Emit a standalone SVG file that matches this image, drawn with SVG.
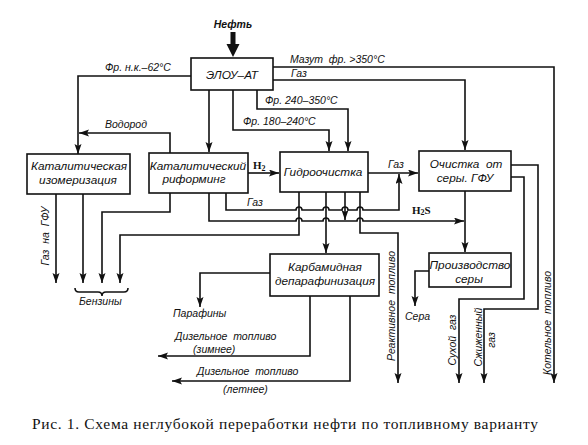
<svg xmlns="http://www.w3.org/2000/svg" width="588" height="445" viewBox="0 0 588 445">
<defs>
<marker id="ah" markerUnits="userSpaceOnUse" markerWidth="11" markerHeight="8" refX="10" refY="3.5" orient="auto">
<path d="M0,0 L10,3.5 L0,7 L2,3.5 z" fill="#111"/>
</marker>
<style>
.ln{fill:none;stroke:#111;stroke-width:1.6}
.bx{fill:#fff;stroke:#111;stroke-width:1.6}
.t{font-family:"Liberation Sans",Arial,sans-serif;font-style:italic;font-size:10.5px;fill:#111}
.bt{font-family:"Liberation Sans",Arial,sans-serif;font-style:italic;font-size:11.8px;fill:#111;text-anchor:middle}
.h{font-family:"Liberation Serif","Times New Roman",serif;font-weight:bold;font-size:11px;fill:#111}
.cap{font-family:"Liberation Serif","Times New Roman",serif;font-size:15.5px;fill:#111}
</style>
</defs>
<rect width="588" height="445" fill="#fff"/>

<g id="connectors">
<polygon points="230.5,32 235.5,32 235.5,44 239.5,44 233,57 226.5,44 230.5,44" fill="#111"/>
<path class="ln" d="M191,76 H78 V154" marker-end="url(#ah)"/>
<path class="ln" d="M170,153 V133 H79" marker-end="url(#ah)"/>
<path class="ln" d="M209,90 V152" marker-end="url(#ah)"/>
<path class="ln" d="M233,90 V130 H329 V151" marker-end="url(#ah)"/>
<path class="ln" d="M257,90 V109 H348 V151" marker-end="url(#ah)"/>
<path class="ln" d="M273,67 H554 V383" marker-end="url(#ah)"/>
<path class="ln" d="M273,80 H465 V150" marker-end="url(#ah)"/>
<path class="ln" d="M248,173 H279" marker-end="url(#ah)"/>
<path class="ln" d="M368,173 H418" marker-end="url(#ah)"/>
<path class="ln" d="M56,194 V283" marker-end="url(#ah)"/>
<path class="ln" d="M83,194 V283" marker-end="url(#ah)"/>
<path class="ln" d="M170,193 V212 H102 V283" marker-end="url(#ah)"/>
<path class="ln" d="M299,192 V235 H120 V283" marker-end="url(#ah)"/>
<path class="ln" d="M226,193 V210 H296 A3,3 0 0 1 302,210 H323 A3,3 0 0 1 329,210 H342 A3,3 0 0 1 348,210 H357 A3,3 0 0 1 363,210 H399 V174" marker-end="url(#ah)"/>
<path class="ln" d="M209,193 V221 H296 A3,3 0 0 1 302,221 H323 A3,3 0 0 1 329,221 H357 A3,3 0 0 1 363,221 H464" marker-end="url(#ah)"/>
<path class="ln" d="M345,192 V220" marker-end="url(#ah)"/>
<path class="ln" d="M326,192 V253" marker-end="url(#ah)"/>
<path class="ln" d="M360,192 V233 H398 V383" marker-end="url(#ah)"/>
<path class="ln" d="M465,191 V252" marker-end="url(#ah)"/>
<path class="ln" d="M429,271 H415 V306" marker-end="url(#ah)"/>
<path class="ln" d="M511,177 H524 V299 H459 V383" marker-end="url(#ah)"/>
<path class="ln" d="M511,165 H538 V309 H484 V383" marker-end="url(#ah)"/>
<path class="ln" d="M270,273 H200 V307" marker-end="url(#ah)"/>
<path class="ln" d="M310,296 V356 H158" marker-end="url(#ah)"/>
<path class="ln" d="M350,296 V381 H172" marker-end="url(#ah)"/>
<path class="ln" stroke-width="1.2" d="M75,288 Q75,292 79,292 H98 Q102,292 102,296 Q102,292 106,292 H124 Q128,292 128,288"/>
</g>

<g id="n-neft"><text class="t" x="233" y="28" text-anchor="middle" font-size="12" font-weight="bold">Нефть</text></g>

<g id="n-elou">
<rect class="bx" x="191" y="58" width="82" height="32"/>
<text class="bt" x="232" y="79" font-size="12">ЭЛОУ–АТ</text>
</g>

<g id="n-izom">
<rect class="bx" x="27" y="154" width="103" height="40"/>
<text class="bt" x="79" y="170">Каталитическая</text>
<text class="bt" x="78" y="184">изомеризация</text>
</g>

<g id="n-riform">
<rect class="bx" x="149" y="153" width="99" height="40"/>
<text class="bt" x="198" y="170">Каталитический</text>
<text class="bt" x="194" y="183">риформинг</text>
</g>

<g id="n-gidro">
<rect class="bx" x="280" y="152" width="88" height="40"/>
<text class="bt" x="323" y="176">Гидроочистка</text>
</g>

<g id="n-ochistka">
<rect class="bx" x="419" y="151" width="92" height="40"/>
<text class="bt" x="466" y="168">Очистка&#160;&#160;от</text>
<text class="bt" x="465" y="182">серы. ГФУ</text>
</g>

<g id="n-proizv">
<rect class="bx" x="429" y="253" width="82" height="34"/>
<text class="bt" x="470" y="269">Производство</text>
<text class="bt" x="469" y="283">серы</text>
</g>

<g id="n-karb">
<rect class="bx" x="270" y="254" width="109" height="42"/>
<text class="bt" x="325" y="271">Карбамидная</text>
<text class="bt" x="325" y="285">депарафинизация</text>
</g>

<g id="labels">
<text class="t" x="105" y="71">Фр. н.к.–62°С</text>
<text class="t" x="290" y="63">Мазут&#160;&#160;фр. &gt;350°С</text>
<text class="t" x="291" y="77">Газ</text>
<text class="t" x="265" y="104">Фр. 240–350°С</text>
<text class="t" x="243" y="125">Фр. 180–240°С</text>
<text class="t" x="105" y="128">Водород</text>
<text class="h" x="253" y="169">H<tspan font-size="8" dy="2">2</tspan></text>
<text class="t" x="247" y="206">Газ</text>
<text class="t" x="388" y="168">Газ</text>
<text class="h" x="412" y="214">H<tspan font-size="8" dy="1">2</tspan><tspan dy="-1">S</tspan></text>
<text class="t" x="79" y="305">Бензины</text>
<text class="t" x="173" y="317">Парафины</text>
<text class="t" x="405" y="320">Сера</text>
<text class="t" x="175" y="340">Дизельное&#160;&#160;топливо</text>
<text class="t" x="193" y="353">(зимнее)</text>
<text class="t" x="197" y="375">Дизельное&#160;&#160;топливо</text>
<text class="t" x="223" y="393">(летнее)</text>
<text class="t" x="49" y="236" text-anchor="middle" transform="rotate(-90 49 236)">Газ&#160;&#160;на&#160;&#160;ГФУ</text>
<text class="t" x="395" y="306" text-anchor="middle" transform="rotate(-90 395 306)">Реактивное&#160;&#160;топливо</text>
<text class="t" x="456" y="340" text-anchor="middle" transform="rotate(-90 456 340)">Сухой&#160;&#160;газ</text>
<text class="t" x="482" y="337" text-anchor="middle" transform="rotate(-90 482 337)">Сжиженный</text>
<text class="t" x="495" y="340" text-anchor="middle" transform="rotate(-90 495 340)">газ</text>
<text class="t" x="551" y="323" text-anchor="middle" transform="rotate(-90 551 323)">Котельное&#160;&#160;топливо</text>
</g>

<text class="cap" x="32" y="429" textLength="506" lengthAdjust="spacing">Рис. 1. Схема неглубокой переработки нефти по топливному варианту</text>
</svg>
